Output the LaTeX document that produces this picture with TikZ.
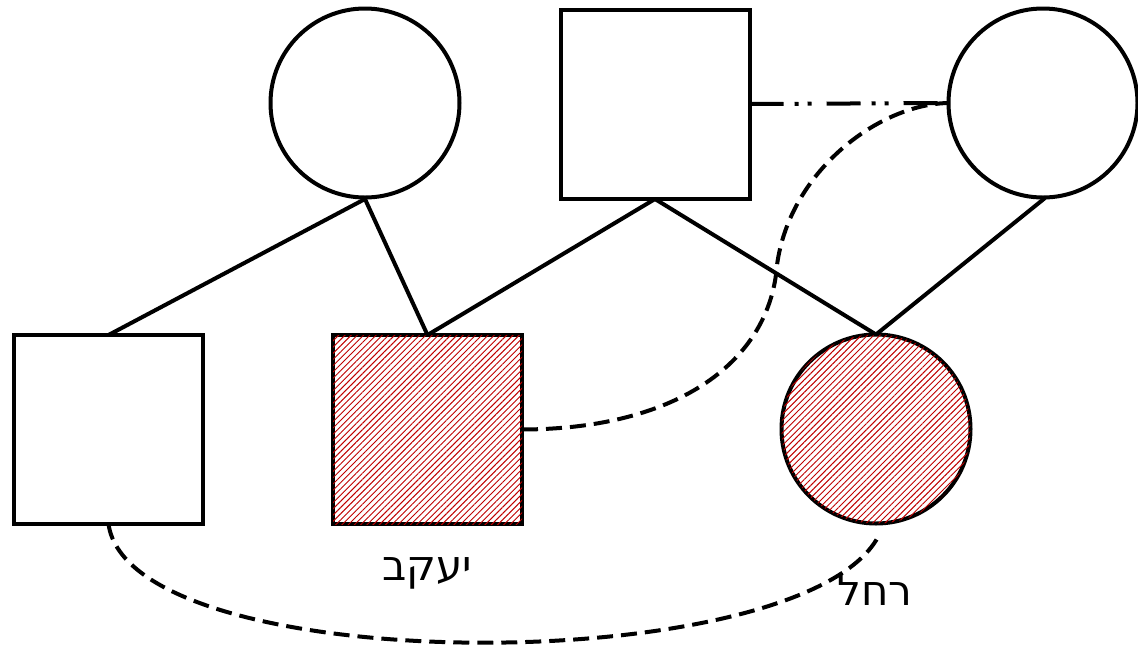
\documentclass[tikz,border=0pt]{standalone}
\usepackage{fontspec}
\newfontfamily\hebfont[Script=Hebrew]{DejaVu Sans}
\TeXXeTstate=1
\usetikzlibrary{patterns.meta}
\definecolor{hatchred}{HTML}{C00000}
\tikzset{
  x=1pt,y=-1pt,
  person/.style={draw=black,line width=4pt,fill=white,inner sep=0pt,outer sep=0pt},
  male/.style={person,rectangle,minimum width=189pt,minimum height=189pt},
  female/.style={person,circle,minimum size=189pt},
  affected/.style={postaction={pattern={Lines[angle=45,distance=4.4pt,line width=0.95pt]},pattern color=hatchred}},
  rel/.style={line width=4pt},
  link/.style={line width=4pt,dash pattern=on 16pt off 8pt},
  twin/.style={line width=4pt,dash pattern=on 34pt off 11pt on 4pt off 9pt on 4pt off 15pt},
  lbl/.style={font=\hebfont\fontsize{42}{48}\selectfont,inner sep=0pt,anchor=base}
}
\begin{document}
\begin{tikzpicture}
\useasboundingbox (0,0) rectangle (1138,649);
\node[female] (gm) at (365,103) {};
\node[male] (gf) at (655,104) {};
\node[female] (gm2) at (1043,103) {};
\node[male] (c1) at (108.5,429.5) {};
\node[male,affected] (c2) at (427.5,429.5) {};
\node[female,affected] (c3) at (876,429) {};
\coordinate (gmb) at (365,199);
\coordinate (gfb) at (655,199);
\coordinate (gm2b) at (1045,198);
\draw[rel] (gmb) -- (c1.north);
\draw[rel] (gmb) -- (c2.north);
\draw[rel] (gfb) -- (c2.north);
\draw[rel] (gfb) -- (c3.north);
\draw[rel] (gm2b) -- (c3.north);
\draw[twin] (gf.east) -- (gm2.west);
\coordinate (mid) at (777,265);
\draw[link] (c2.east) .. controls (680,429) and (770,360) .. (mid)
  .. controls (790,170) and (880,104) .. (gm2.west);
\coordinate (c3b) at (878,537);
\draw[link] (c1.south) .. controls (130,680) and (800,680) .. (c3b);
\node[lbl] (l1) at (427,580) {\beginR יעקב\endR};
\node[lbl] (l2) at (875,605) {\beginR רחל\endR};
\end{tikzpicture}
\end{document}
